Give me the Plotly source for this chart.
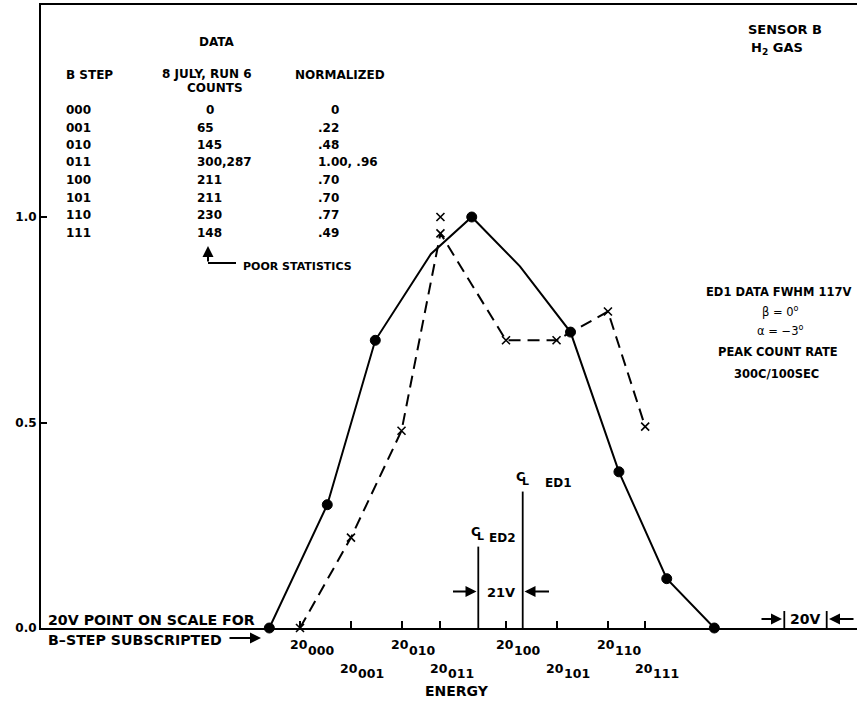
import plotly.graph_objects as go

# ---------------- data ----------------
b_steps = ["000", "001", "010", "011", "100", "101", "110", "111"]
counts_txt = ["0", "65", "145", "300,287", "211", "211", "230", "148"]
normalized_txt = ["0", ".22", ".48", "1.00, .96", ".70", ".70", ".77", ".49"]

# energy of each B step (volts relative to step 000)
step_energy = [0.0, 24.1, 48.0, 66.4, 97.4, 121.3, 145.6, 163.2]
# ED2 normalized counts (dashed curve)
ed2_norm = [0.0, 0.22, 0.48, 0.96, 0.70, 0.70, 0.77, 0.49]
# second reading for step 011
ed2_extra_energy = [66.4]
ed2_extra_norm = [1.00]

# ED1 curve (solid)
ed1_energy = [-14.5, 12.9, 35.6, 61.9, 81.2, 104.0, 127.9, 150.8, 173.4, 195.9]
ed1_norm = [0.0, 0.30, 0.70, 0.91, 1.00, 0.88, 0.72, 0.38, 0.12, 0.0]
ed1_marked = [True, True, True, False, True, False, True, True, True, True]

# detector centre lines
centre_names = ["ED2", "ED1"]
centre_energy = [84.3, 105.3]
centre_height = [0.198, 0.332]

ytick_vals = [0.0, 0.5, 1.0]
ytick_text = ["0.0", "0.5", "1.0"]
label_base = "20"

# ---------------- geometry helpers (layout only) ----------------
W, H = 858, 701
ML, MR, MT, MB = 41, 1, 5, 73
PX0, PXV = 300.0, 2.115      # pixel of step 000, pixels per volt
PY0, PYU = 628.0, 411.0      # pixel of y=0, pixels per unit


def vx(px):
    return (px - PX0) / PXV


def pxp(px):
    return (px - ML) / (W - ML - MR)


def pyp(py):
    return (PY0 - py) / (PY0 - MT)


FONT = "DejaVu Sans"
annotations = []


def txt(s, px, py, size=12, anchor="center", weight="bold"):
    annotations.append(dict(
        text=s, x=pxp(px), y=pyp(py), xref="paper", yref="paper",
        showarrow=False, xanchor=anchor, yanchor="middle", borderpad=0,
        font=dict(family=FONT, size=size, color="black", weight=weight)))


def arrow(hx, hy, dx, dy):
    annotations.append(dict(
        text="", x=pxp(hx), y=pyp(hy), xref="paper", yref="paper",
        showarrow=True, ax=dx, ay=dy, arrowhead=2, arrowsize=1.1,
        arrowwidth=2, arrowcolor="black", standoff=0, startstandoff=0))


fig = go.Figure()

fig.add_trace(go.Scatter(
    x=ed1_energy, y=ed1_norm, mode="lines+markers", cliponaxis=False,
    line=dict(color="black", width=2),
    marker=dict(color="rgb(0,0,0)", opacity=1,
                size=[10 if m else 0 for m in ed1_marked],
                line=dict(width=1, color="rgb(0,0,0)")),
    showlegend=False))

fig.add_trace(go.Scatter(
    x=step_energy, y=ed2_norm, mode="lines+markers", cliponaxis=False,
    line=dict(color="black", width=2, dash="12px,7px"),
    marker=dict(symbol="x-thin", size=8, color="black",
                line=dict(color="black", width=1.6)),
    showlegend=False))

fig.add_trace(go.Scatter(
    x=ed2_extra_energy, y=ed2_extra_norm, mode="markers", cliponaxis=False,
    marker=dict(symbol="x-thin", size=8, color="black",
                line=dict(color="black", width=1.6)),
    showlegend=False))

shapes = []
for e, h in zip(centre_energy, centre_height):
    shapes.append(dict(type="line", xref="x", yref="y", x0=e, x1=e, y0=0, y1=h,
                       line=dict(color="black", width=1.8)))

# ---- table ----
txt("DATA", 217, 42)
txt("B STEP", 65, 75, anchor="left")
txt("8 JULY, RUN 6", 207, 74)
txt("COUNTS", 215, 88)
txt("NORMALIZED", 340, 75)
for i, (s, c, n) in enumerate(zip(b_steps, counts_txt, normalized_txt)):
    yy = 110 + 17.5 * i
    txt(s, 65, yy, anchor="left")
    if len(c) == 1:
        txt(c, 210, yy)
    else:
        txt(c, 196, yy, anchor="left")
    if len(n) == 1:
        txt(n, 335, yy)
    else:
        txt(n, 317, yy, anchor="left")

# poor statistics
arrow(208, 246, 0, 17)
shapes.append(dict(type="line", xref="paper", yref="paper",
                   x0=pxp(208), x1=pxp(236), y0=pyp(263), y1=pyp(263),
                   line=dict(color="black", width=2)))
txt("POOR STATISTICS", 242, 266, size=11, anchor="left")

# right-hand notes
txt("SENSOR B", 747, 29, size=13, anchor="left")
txt("H<sub>2</sub> GAS", 750, 48, size=13, anchor="left")
txt("ED1 DATA FWHM 117V", 778, 292, size=11.5)
txt("β = 0<sup>o</sup>", 780, 311, size=11.5, weight="normal")
txt("α = −3<sup>o</sup>", 780, 330, size=11.5, weight="normal")
txt("PEAK COUNT RATE", 778, 352, size=11.5)
txt("300C/100SEC", 776, 374, size=11.5)

# centre-line labels
for name, e, h in zip(centre_names, centre_energy, centre_height):
    cx = PX0 + e * PXV
    top = PY0 - h * PYU
    txt("C", cx - 2.5, top - 15, size=12.5)
    txt("L", cx + 2.5, top - 10, size=11)
    txt(name, cx + 10 if name == "ED2" else cx + 21, top - 9, size=12, anchor="left")

# 21V
arrow(476.5, 591.5, -25, 0)
arrow(524.5, 591.5, 26, 0)
txt("21V", 501, 592, size=13)

# 20V scale bar
arrow(782, 619, -22, 0)
arrow(829, 619, 26, 0)
for bx in (784.3, 826.7):
    shapes.append(dict(type="line", xref="paper", yref="paper",
                       x0=pxp(bx), x1=pxp(bx), y0=pyp(611), y1=pyp(628),
                       line=dict(color="black", width=1.8)))
txt("20V", 805, 619, size=14)

# left notes
txt("20V POINT ON SCALE FOR", 47, 620, size=14.2, anchor="left")
txt("B–STEP SUBSCRIPTED", 47, 640, size=14.2, anchor="left")
arrow(261, 638, -33, 0)

# step labels (staggered, subscript code)
for i, (code, e) in enumerate(zip(b_steps, step_energy)):
    tx = PX0 + e * PXV + 7.5
    row = 645 if i % 2 == 0 else 668
    txt(label_base, tx + 1, row, size=12.5, anchor="right")
    txt(code, tx - 1, row + 5, size=12.5, anchor="left")

txt("ENERGY", 457, 691, size=14)

fig.update_layout(
    width=W, height=H,
    margin=dict(l=ML, r=MR, t=MT, b=MB, pad=0),
    paper_bgcolor="white", plot_bgcolor="white",
    showlegend=False,
    annotations=annotations, shapes=shapes,
    xaxis=dict(range=[vx(ML), vx(W - MR)], showline=True, mirror=True,
               linecolor="black", linewidth=2, ticks="inside", ticklen=7,
               tickwidth=1.5, tickcolor="black", tickvals=step_energy,
               showticklabels=False, showgrid=False, zeroline=False),
    yaxis=dict(range=[0, (PY0 - MT) / PYU], showline=True, linecolor="black",
               linewidth=2, ticks="inside", ticklen=6, tickwidth=1.5,
               tickcolor="black", tickvals=ytick_vals, ticktext=ytick_text,
               tickfont=dict(family=FONT, size=12, color="black", weight="bold"),
               showgrid=False, zeroline=False),
)

fig.write_html("out.html", config={"displayModeBar": False},
               post_script="document.body.style.margin='0';"
                           "document.body.style.overflow='hidden';")
